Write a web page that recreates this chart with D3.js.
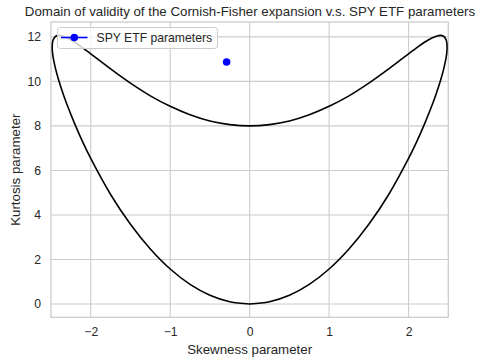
<!DOCTYPE html>
<html><head><meta charset="utf-8">
<script src="https://cdn.jsdelivr.net/npm/d3@7"></script>
<style>body{margin:0;background:#fff;} text{font-family:"Liberation Sans",Arial,sans-serif;fill:#262626;}</style>
</head><body><svg id="c" width="482" height="363"></svg>
<script>
// boundary of the validity domain (right half; left half mirrored)
const skewRight = [0, 0.25, 0.5, 0.75, 1, 1.25, 1.5, 1.75, 2, 2.1, 2.2, 2.3, 2.35, 2.4, 2.44, 2.47, 2.48, 2.485];
const kurtLower = [0, 0.10, 0.39, 0.88, 1.57, 2.47, 3.58, 4.92, 6.54, 7.27, 8.08, 8.97, 9.47, 10.02, 10.53, 11.02, 11.26, 11.55];
const kurtUpper = [8, 8.06, 8.22, 8.50, 8.88, 9.35, 9.92, 10.56, 11.24, 11.51, 11.76, 11.96, 12.03, 12.07, 12.03, 11.89, 11.77, 11.55];
const spySkew = [-0.29];
const spyKurt = [10.87];
const xTicks = [-2, -1, 0, 1, 2];
const yTicks = [0, 2, 4, 6, 8, 10, 12];

const svg = d3.select("#c");
const L = 51, R = 448.3, T = 22, B = 317.3;
const x = d3.scaleLinear().domain([-2.5, 2.5]).range([L, R]);
const y = d3.scaleLinear().domain([-0.6, 12.67]).range([B, T]);

// build closed loop
const loop = [];
skewRight.forEach((s, i) => loop.push([s, kurtLower[i]]));
for (let i = skewRight.length - 2; i >= 0; i--) loop.push([skewRight[i], kurtUpper[i]]);
for (let i = 1; i < skewRight.length; i++) loop.push([-skewRight[i], kurtUpper[i]]);
for (let i = skewRight.length - 2; i >= 0; i--) loop.push([-skewRight[i], kurtLower[i]]);

// grid
const g = svg.append("g");
g.selectAll(".gx").data(xTicks).enter().append("line")
  .attr("x1", d => x(d)).attr("x2", d => x(d)).attr("y1", T).attr("y2", B)
  .attr("stroke", "#cccccc").attr("stroke-width", 1.1);
g.selectAll(".gy").data(yTicks).enter().append("line")
  .attr("y1", d => y(d)).attr("y2", d => y(d)).attr("x1", L).attr("x2", R)
  .attr("stroke", "#cccccc").attr("stroke-width", 1.1);
svg.append("rect").attr("x", L).attr("y", T).attr("width", R - L).attr("height", B - T)
  .attr("fill", "none").attr("stroke", "#cccccc").attr("stroke-width", 1.3);

// axes via d3 axis
const fmt = d => (d < 0 ? "\u2212" + Math.abs(d) : String(d));
const ax = svg.append("g").attr("transform", `translate(0,${B})`)
  .call(d3.axisBottom(x).tickValues(xTicks).tickFormat(fmt).tickSize(0).tickPadding(10));
const ay = svg.append("g").attr("transform", `translate(${L},0)`)
  .call(d3.axisLeft(y).tickValues(yTicks).tickFormat(fmt).tickSize(0).tickPadding(10));
[ax, ay].forEach(a => { a.select(".domain").remove(); a.selectAll("text").style("font-size", "12.2px").style("font-family", "'Liberation Sans',Arial,sans-serif").attr("fill", "#262626"); });

// curve
const line = d3.line().x(d => x(d[0])).y(d => y(d[1])).curve(d3.curveCatmullRom.alpha(0.5));
svg.append("path").datum(loop).attr("d", line).attr("fill", "none")
  .attr("stroke", "#000").attr("stroke-width", 1.6);

// SPY point
svg.selectAll(".spy").data(spySkew).enter().append("circle")
  .attr("cx", d => x(d)).attr("cy", (d, i) => y(spyKurt[i])).attr("r", 3.8).attr("fill", "#0000ff");

// legend
const lg = svg.append("g");
lg.append("rect").attr("x", 57.5).attr("y", 27.5).attr("width", 160).attr("height", 21).attr("rx", 3)
  .attr("fill", "rgba(255,255,255,0.8)").attr("stroke", "#cccccc").attr("stroke-width", 1);
lg.append("line").attr("x1", 61).attr("x2", 87.5).attr("y1", 37.5).attr("y2", 37.5).attr("stroke", "#0000ff").attr("stroke-width", 1.6);
lg.append("circle").attr("cx", 74.3).attr("cy", 37.5).attr("r", 3.8).attr("fill", "#0000ff");
lg.append("text").attr("x", 96.5).attr("y", 41.8).style("font-size", "12.2px").text("SPY ETF parameters");

// titles
svg.append("text").attr("x", 250).attr("y", 15.5).attr("text-anchor", "middle").style("font-size", "13.3px")
  .text("Domain of validity of the Cornish-Fisher expansion v.s. SPY ETF parameters");
svg.append("text").attr("x", (L + R) / 2).attr("y", 354).attr("text-anchor", "middle").style("font-size", "13.3px")
  .text("Skewness parameter");
svg.append("text").attr("transform", `translate(19.5,${(T + B) / 2}) rotate(-90)`).attr("text-anchor", "middle").style("font-size", "13.3px")
  .text("Kurtosis parameter");
</script></body></html>
